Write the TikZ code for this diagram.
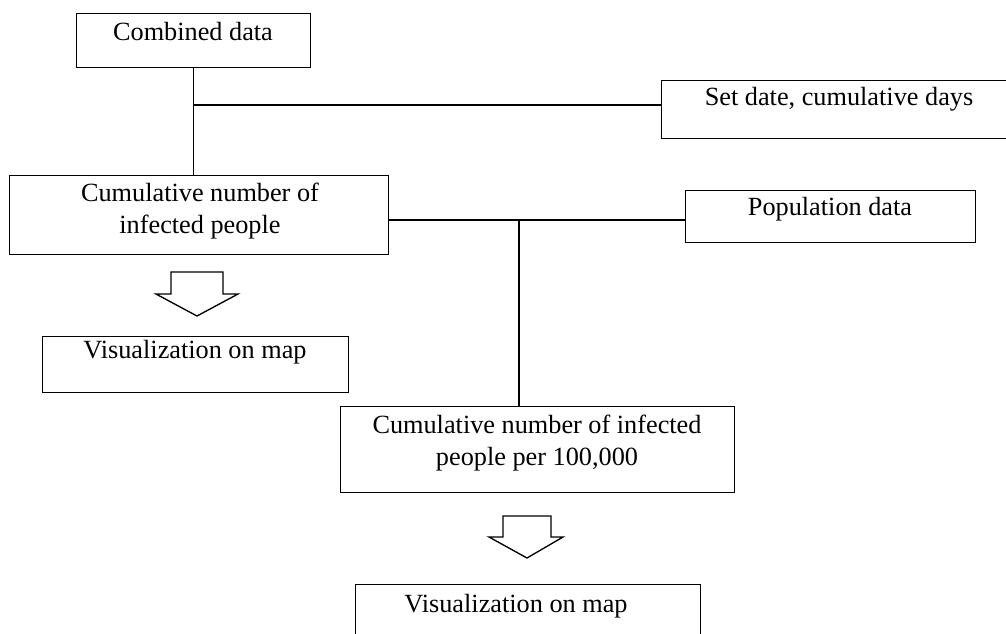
\documentclass[tikz,border=0pt]{standalone}
\usepackage{fontspec}
\setmainfont{Liberation Serif}
\usetikzlibrary{positioning}

\tikzset{every picture/.style={line width=1pt}}
\tikzset{
  flowbox/.style={draw, anchor=north west, inner sep=0pt},
  boxtext/.style={anchor=base, inner sep=0pt, align=center, font=\fontsize{19.7}{24}\selectfont},
  hollow/.style={draw, fill=white, line join=miter}
}

\begin{document}
\begin{tikzpicture}[x=0.75pt,y=0.75pt,yscale=-1,xscale=1]
		\useasboundingbox (0,0) rectangle (1006,633);
		%Boxes
		\node [flowbox, minimum width=175.5pt, minimum height=40.5pt] (comb) at (76,13) {};
		\node [flowbox, minimum width=270pt, minimum height=43.5pt] (setd) at (661,80) {};
		\node [flowbox, minimum width=284.25pt, minimum height=59.25pt] (cum) at (9,175) {};
		\node [flowbox, minimum width=217.5pt, minimum height=39pt] (pop) at (685,190) {};
		\node [flowbox, minimum width=229.5pt, minimum height=42pt] (vis1) at (42,336) {};
		\node [flowbox, minimum width=295.5pt, minimum height=64.5pt] (per) at (340,406) {};
		\node [flowbox, minimum width=258.75pt, minimum height=60pt] (vis2) at (355,584) {};
		% Text Nodes
		\node [boxtext] (comb-t) at (193,40) {Combined data};
		\node [boxtext] (setd-t) at (839,105) {Set date, cumulative days};
		\node [boxtext] (cum-t) at (200,233) {Cumulative number of\\infected people};
		\node [boxtext] (pop-t) at (830,215) {Population data};
		\node [boxtext] (vis1-t) at (195,358) {Visualization on map};
		\node [boxtext] (per-t) at (537,465) {Cumulative number of infected\\people per 100,000};
		\node [boxtext] (vis2-t) at (516,612) {Visualization on map};
		%Connectors
		\coordinate (j1) at (193,105);
		\coordinate (j2) at (519,220);
		\draw (comb.south) -- (comb.south |- cum.north);
		\draw (j1) -- (j1 -| setd.west);
		\draw (j2 -| cum.east) -- (j2 -| pop.west);
		\draw (j2) -- (j2 |- per.north);
		%Hollow arrows
		\draw [hollow] (171,272) -- (223,272) -- (223,294) -- (238,294) -- (197,316) -- (156,294) -- (171,294) -- cycle;
		\draw [hollow] (503,516) -- (551,516) -- (551,537) -- (563,537) -- (527,558) -- (489,537) -- (503,537) -- cycle;
\end{tikzpicture}
\end{document}
